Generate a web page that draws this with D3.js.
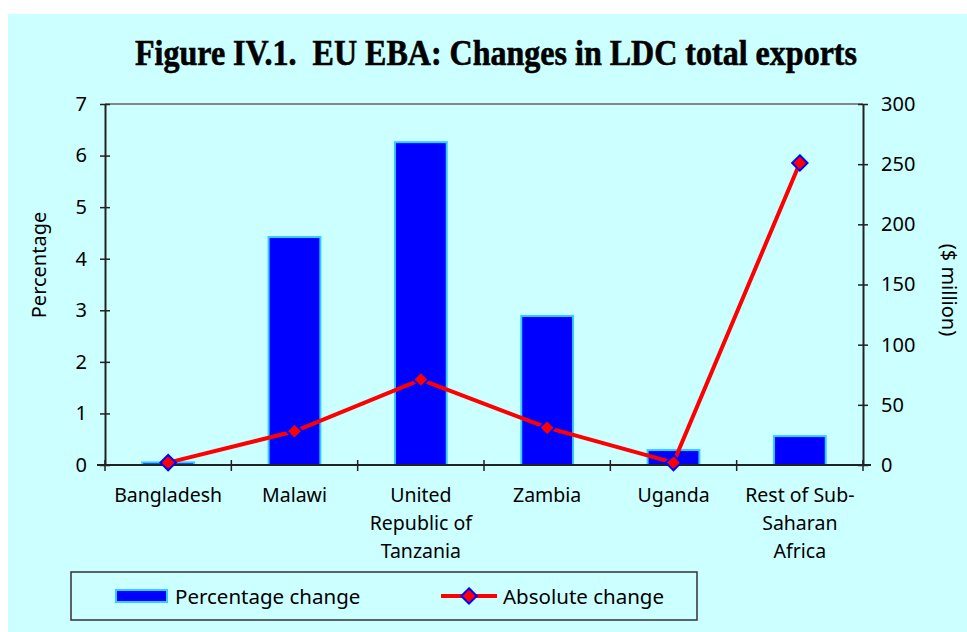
<!DOCTYPE html>
<html>
<head>
<meta charset="utf-8">
<script src="https://cdn.jsdelivr.net/npm/d3@7"></script>
<style>
body { margin:0; background:#fff; }
text { font-family: "Noto Sans", "DejaVu Sans", sans-serif; fill:#000; }
</style>
</head>
<body>
<svg id="chart" width="967" height="632"></svg>
<script>
var categories = [["Bangladesh"], ["Malawi"], ["United", "Republic of", "Tanzania"], ["Zambia"], ["Uganda"], ["Rest of Sub-", "Saharan", "Africa"]]
var percentChange = [0.05, 4.42, 6.26, 2.89, 0.29, 0.56]
var absoluteChange = [2, 28, 71, 31, 2, 251]
var leftTicks = [0, 1, 2, 3, 4, 5, 6, 7]
var rightTicks = [0, 50, 100, 150, 200, 250, 300]

var svg = d3.select("#chart")
var margins = {top:104, left:105, right:104, bottom:167}
var graph = {width:967-margins.left-margins.right, height:632-margins.top-margins.bottom}

svg.append("rect").attr("x",8).attr("y",14).attr("width",959).attr("height",618).attr("fill","#ccffff")

svg.append("text")
    .text("Figure IV.1.  EU EBA: Changes in LDC total exports")
    .attr("x", 496).attr("y", 65)
    .attr("text-anchor","middle")
    .attr("textLength", 722).attr("lengthAdjust","spacingAndGlyphs")
    .style("font-family","'Liberation Serif', serif")
    .style("font-weight","bold").style("font-size","35px")
    .style("stroke","#000").style("stroke-width",0.6)
    .style("white-space","pre")

var xScale = d3.scaleBand().domain(d3.range(categories.length)).range([0, graph.width]).paddingInner(0.59).paddingOuter(0.295)
var xBound = d3.scaleLinear().domain([0, categories.length]).range([0, graph.width])
var yScale = d3.scaleLinear().domain([0,7]).range([graph.height,0])
var y2Scale = d3.scaleLinear().domain([0,300]).range([graph.height,0])

var g = svg.append("g").attr("transform","translate("+margins.left+","+margins.top+")")

// top border of plot
g.append("line").attr("x1",0).attr("x2",graph.width).attr("y1",0).attr("y2",0).attr("stroke","#888").attr("stroke-width",2)

g.selectAll("rect.bar").data(percentChange).enter().append("rect")
    .attr("class","bar")
    .attr("x", function(d,i){return xScale(i)})
    .attr("width", xScale.bandwidth())
    .attr("y", function(d){return yScale(d)})
    .attr("height", function(d){return graph.height - yScale(d)})
    .attr("fill","#0000ff").attr("stroke","#33ccff").attr("stroke-width",2)

// axes
var leftAxis = d3.axisLeft(yScale).tickValues(leftTicks).tickFormat(d3.format("d")).tickSizeInner(5).tickSizeOuter(0).tickPadding(13)
var la = g.append("g").call(leftAxis)
la.selectAll(".tick line").attr("x1",5).attr("x2",-5)
var rightAxis = d3.axisRight(y2Scale).tickValues(rightTicks).tickFormat(d3.format("d")).tickSizeInner(5).tickSizeOuter(0).tickPadding(13)
var ra = g.append("g").attr("transform","translate("+graph.width+",0)").call(rightAxis)
ra.selectAll(".tick line").attr("x1",-5).attr("x2",5)
;[la, ra].forEach(function(a){
    a.select(".domain").attr("stroke","#222").attr("stroke-width",2)
    a.selectAll(".tick line").attr("stroke","#222").attr("stroke-width",1.5)
    a.selectAll("text").style("font-size","20px").style("font-family","'Noto Sans', sans-serif")
})

var xa = g.append("g").attr("transform","translate(0,"+graph.height+")")
xa.append("line").attr("x1",-8).attr("x2",graph.width+8).attr("stroke","#222").attr("stroke-width",2)
xa.selectAll("line.tk").data(d3.range(categories.length+1)).enter().append("line")
    .attr("class","tk")
    .attr("x1", function(d){return xBound(d)}).attr("x2", function(d){return xBound(d)})
    .attr("y1",-5).attr("y2",6).attr("stroke","#222").attr("stroke-width",1.5)
var xl = xa.selectAll("text.cat").data(categories).enter().append("text")
    .attr("class","cat")
    .attr("text-anchor","middle")
    .style("font-size","19.5px")
xl.selectAll("tspan").data(function(d,i){return d.map(function(s){return {s:s,i:i}})}).enter().append("tspan")
    .attr("x", function(d){return xScale(d.i)+xScale.bandwidth()/2})
    .attr("y", function(d,j){return 37+j*28})
    .text(function(d){return d.s})

// line
var lineGen = d3.line()
    .x(function(d,i){return xScale(i)+xScale.bandwidth()/2})
    .y(function(d){return y2Scale(d)})
g.append("path").datum(absoluteChange).attr("d",lineGen).attr("fill","none").attr("stroke","#ff0000").attr("stroke-width",4)
var diamond = d3.symbol().type(d3.symbolDiamond2).size(150)
g.selectAll("path.mk").data(absoluteChange).enter().append("path")
    .attr("class","mk")
    .attr("d", diamond)
    .attr("transform", function(d,i){return "translate("+(xScale(i)+xScale.bandwidth()/2)+","+y2Scale(d)+")"})
    .attr("fill","#ff0000").attr("stroke","#0000ff").attr("stroke-width",2)

// axis titles
svg.append("text").text("Percentage")
    .attr("transform","translate(46,265) rotate(-90)")
    .attr("text-anchor","middle").style("font-size","20px")
svg.append("text").text("($ million)")
    .attr("transform","translate(942,290) rotate(90)")
    .attr("text-anchor","middle").style("font-size","20px")

// legend
var lg = svg.append("g")
lg.append("rect").attr("x",71).attr("y",572).attr("width",626).attr("height",48)
    .attr("fill","none").attr("stroke","#333").attr("stroke-width",1.5)
lg.append("rect").attr("x",116).attr("y",590).attr("width",51).attr("height",12)
    .attr("fill","#0000ff").attr("stroke","#33ccff").attr("stroke-width",2)
lg.append("text").text("Percentage change").attr("x",175).attr("y",604).style("font-size","20.5px")
lg.append("line").attr("x1",441).attr("x2",497).attr("y1",596).attr("y2",596).attr("stroke","#ff0000").attr("stroke-width",4)
lg.append("path").attr("d", diamond).attr("transform","translate(469,596)")
    .attr("fill","#ff0000").attr("stroke","#0000ff").attr("stroke-width",2)
lg.append("text").text("Absolute change").attr("x",503).attr("y",604).style("font-size","20.5px")
</script>
</body>
</html>
